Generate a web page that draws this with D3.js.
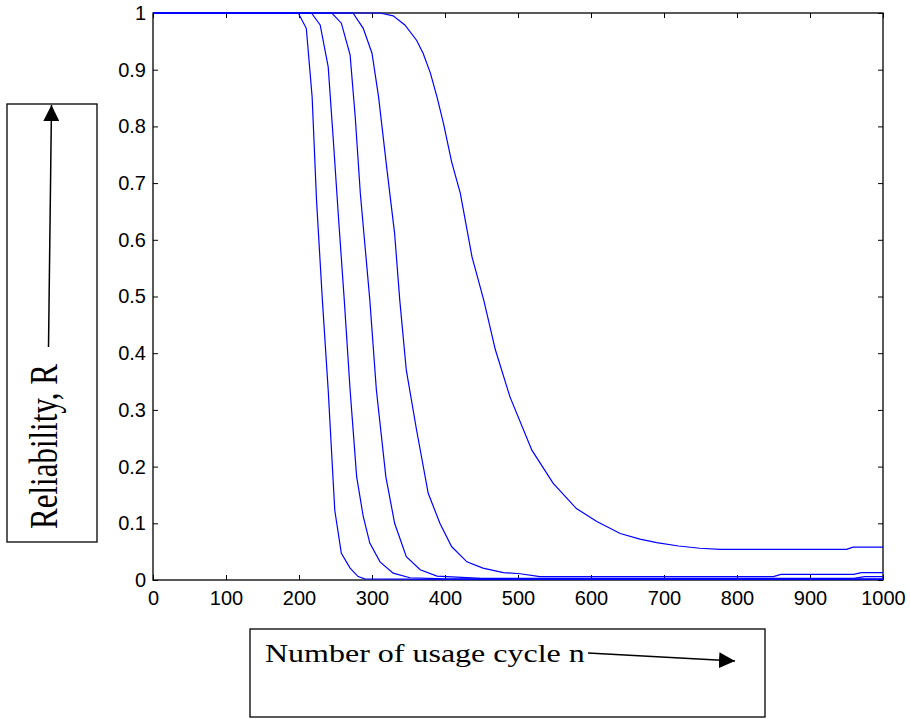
<!DOCTYPE html>
<html>
<head>
<meta charset="utf-8">
<script src="https://cdn.jsdelivr.net/npm/d3@7"></script>
<style>
  body { margin: 0; background: #fff; }
  svg { display: block; }
</style>
</head>
<body>
<script>
// tick values
const xTicks = [0, 100, 200, 300, 400, 500, 600, 700, 800, 900, 1000]
const yTicks = [0, 0.1, 0.2, 0.3, 0.4, 0.5, 0.6, 0.7, 0.8, 0.9, 1]

// curves (cycle n, reliability R)
const curveA_n = [0, 199, 210, 218, 224, 232, 240, 249, 258, 270, 281, 290, 400, 1000]
const curveA_R = [1, 1, 0.973, 0.852, 0.67, 0.494, 0.335, 0.123, 0.047, 0.021, 0.006, 0.002, 0.001, 0.001]

const curveB_n = [0, 217, 229, 240, 247, 254, 262, 270, 279, 288, 297, 311, 329, 352, 400, 1000]
const curveB_R = [1, 1, 0.979, 0.905, 0.776, 0.641, 0.494, 0.335, 0.182, 0.112, 0.065, 0.032, 0.012, 0.004, 0.002, 0.002]

const curveC_n = [0, 245, 258, 270, 277, 284, 297, 306, 319, 331, 347, 366, 389, 450, 960, 975, 1000]
const curveC_R = [1, 1, 0.982, 0.926, 0.817, 0.682, 0.494, 0.335, 0.182, 0.1, 0.041, 0.018, 0.007, 0.003, 0.003, 0.006, 0.006]

const curveD_n = [0, 274, 288, 300, 309, 320, 331, 338, 347, 361, 377, 393, 409, 430, 452, 480, 503, 530, 850, 860, 960, 970, 1000]
const curveD_R = [1, 1, 0.973, 0.929, 0.852, 0.729, 0.611, 0.494, 0.37, 0.265, 0.153, 0.1, 0.059, 0.032, 0.021, 0.013, 0.011, 0.006, 0.006, 0.01, 0.01, 0.013, 0.013]

const curveE_n = [0, 311, 329, 345, 361, 370, 380, 389, 398, 409, 421, 437, 453, 469, 489, 519, 548, 580, 608, 640, 667, 690, 720, 749, 777, 950, 959, 1000]
const curveE_R = [1, 1, 0.995, 0.979, 0.952, 0.929, 0.894, 0.852, 0.805, 0.738, 0.682, 0.57, 0.494, 0.406, 0.323, 0.229, 0.171, 0.126, 0.103, 0.082, 0.072, 0.066, 0.06, 0.056, 0.054, 0.054, 0.058, 0.058]

const curves = [
  [curveA_n, curveA_R],
  [curveB_n, curveB_R],
  [curveC_n, curveC_R],
  [curveD_n, curveD_R],
  [curveE_n, curveE_R]
].map(([ns, rs]) => ns.map((n, i) => ({n: n, r: rs[i]})))

let width = 910
let height = 719
let plot = {left: 153, right: 883, top: 13, bottom: 580}
let stretch = 1.28 // the original figure is stretched sideways

const svg = d3.select("body")
    .append("svg")
    .attr("width", width)
    .attr("height", height)

svg.append("rect")
    .attr("width", width)
    .attr("height", height)
    .attr("fill", "#fff")

const x = d3.scaleLinear().domain([0, 1000]).range([plot.left, plot.right])
const y = d3.scaleLinear().domain([0, 1]).range([plot.bottom, plot.top])

// axes, ticks pointing inward on all four sides
function styleAxis (g) {
  g.select(".domain").remove()
  g.selectAll(".tick line").attr("stroke", "#000")
  g.selectAll("text")
    .attr("fill", "#000")
    .style("font-family", "'Liberation Sans', Arial, sans-serif")
    .style("font-size", "20px")
}

svg.append("g")
    .attr("transform", `translate(0,${plot.bottom})`)
    .call(d3.axisBottom(x).tickValues(xTicks).tickSize(-5).tickPadding(11).tickFormat(d3.format("d")))
    .call(styleAxis)

svg.append("g")
    .attr("transform", `translate(0,${plot.top})`)
    .call(d3.axisTop(x).tickValues(xTicks).tickSize(-5).tickFormat(""))
    .call(styleAxis)

svg.append("g")
    .attr("transform", `translate(${plot.left},0)`)
    .call(d3.axisLeft(y).tickValues(yTicks).tickSize(-5).tickPadding(7).tickFormat(d3.format("~g")))
    .call(styleAxis)

svg.append("g")
    .attr("transform", `translate(${plot.right},0)`)
    .call(d3.axisRight(y).tickValues(yTicks).tickSize(-5).tickFormat(""))
    .call(styleAxis)

svg.append("rect")
    .attr("x", plot.left)
    .attr("y", plot.top)
    .attr("width", plot.right - plot.left)
    .attr("height", plot.bottom - plot.top)
    .attr("fill", "none")
    .attr("stroke", "#000")
    .attr("stroke-width", 1.3)

const line = d3.line()
    .x(d => x(d.n))
    .y(d => y(d.r))

svg.append("g")
    .selectAll("path")
    .data(curves)
    .join("path")
      .attr("d", line)
      .attr("fill", "none")
      .attr("stroke", "#0000ff")
      .attr("stroke-width", 1.2)

// arrow head marker
svg.append("defs")
  .append("marker")
    .attr("id", "arrow")
    .attr("viewBox", "0 0 10 10")
    .attr("refX", 10)
    .attr("refY", 5)
    .attr("markerUnits", "userSpaceOnUse")
    .attr("markerWidth", 16)
    .attr("markerHeight", 16)
    .attr("orient", "auto")
  .append("path")
    .attr("d", "M0,0 L10,5 L0,10 Z")
    .attr("fill", "#000")

// y label box
svg.append("rect")
    .attr("x", 7).attr("y", 104)
    .attr("width", 90).attr("height", 438)
    .attr("fill", "none").attr("stroke", "#000").attr("stroke-width", 1.3)

svg.append("text")
    .attr("transform", `translate(57,529) scale(${stretch},1) rotate(-90)`)
    .style("font-family", "'Liberation Serif', 'Times New Roman', serif")
    .style("font-size", "31px")
    .attr("fill", "#000")
    .text("Reliability, R")

svg.append("line")
    .attr("x1", 48.5).attr("y1", 347)
    .attr("x2", 51.5).attr("y2", 105)
    .attr("stroke", "#000").attr("stroke-width", 1.5)
    .attr("marker-end", "url(#arrow)")

// x label box
svg.append("rect")
    .attr("x", 250).attr("y", 629)
    .attr("width", 515).attr("height", 88)
    .attr("fill", "none").attr("stroke", "#000").attr("stroke-width", 1.3)

svg.append("text")
    .attr("transform", `translate(265,662) scale(${stretch},1)`)
    .style("font-family", "'Liberation Serif', 'Times New Roman', serif")
    .style("font-size", "25px")
    .attr("fill", "#000")
    .text("Number of usage cycle n")

svg.append("line")
    .attr("x1", 588).attr("y1", 653)
    .attr("x2", 735).attr("y2", 661)
    .attr("stroke", "#000").attr("stroke-width", 1.5)
    .attr("marker-end", "url(#arrow)")
</script>
</body>
</html>
